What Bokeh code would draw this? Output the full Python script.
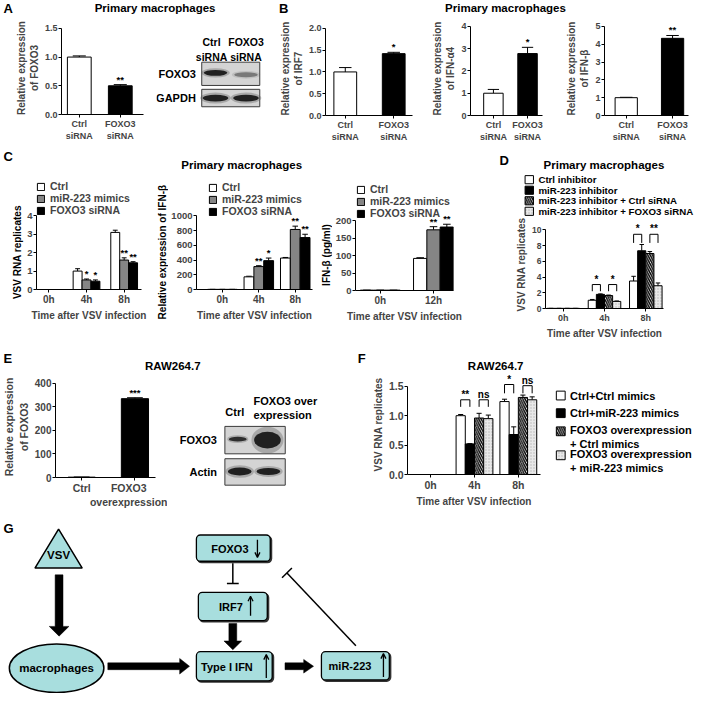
import math
from bokeh.plotting import figure
from bokeh.models import (Range1d, FixedTicker, ColumnDataSource, Whisker, TeeHead,
                          Legend, LegendItem, Arrow, OpenHead)
from bokeh.layouts import row, column
from bokeh.core.properties import value
from bokeh.embed import file_html
from bokeh.resources import INLINE

FONT = "Liberation Sans"
KX, KY = 0.985, 0.975


def PX(v):
    return int(round(v * KX))


def PY(v):
    return int(round(v * KY))


# ------------------------------------------------------------------ data
# Panel A
A_labels = ["Ctrl\nsiRNA", "FOXO3\nsiRNA"]
A_values = [1.00, 0.50]
A_errors = [0.02, 0.02]
A_sig = ["", "**"]
A_yticks = [0, 0.5, 1.0, 1.5]
A_yticklabels = ["0.0", "0.5", "1.0", "1.5"]

# Panel B
B_labels = ["Ctrl\nsiRNA", "FOXO3\nsiRNA"]
B_irf7 = [1.00, 1.42]
B_irf7_err = [0.10, 0.03]
B_irf7_sig = ["", "*"]
B_irf7_yticks = [0, 0.5, 1.0, 1.5, 2.0]
B_irf7_yticklabels = ["0.0", "0.5", "1.0", "1.5", "2.0"]
B_ifna4 = [1.00, 2.78]
B_ifna4_err = [0.17, 0.28]
B_ifna4_sig = ["", "*"]
B_ifna4_yticks = [0, 1, 2, 3, 4]
B_ifna4_yticklabels = ["0", "1", "2", "3", "4"]
B_ifnb = [1.00, 4.33]
B_ifnb_err = [0.02, 0.16]
B_ifnb_sig = ["", "**"]
B_ifnb_yticks = [0, 1, 2, 3, 4, 5]
B_ifnb_yticklabels = ["0", "1", "2", "3", "4", "5"]

# Panel C
C_times = ["0h", "4h", "8h"]
C_names = ["Ctrl", "miR-223 mimics", "FOXO3 siRNA"]
C1_ctrl = [0.0, 1.00, 3.10]
C1_ctrl_err = [0.0, 0.13, 0.12]
C1_mir = [0.0, 0.52, 1.60]
C1_mir_err = [0.0, 0.05, 0.12]
C1_mir_sig = ["", "*", "**"]
C1_foxo = [0.0, 0.45, 1.45]
C1_foxo_err = [0.0, 0.07, 0.06]
C1_foxo_sig = ["", "*", "**"]
C1_yticks = [0, 1, 2, 3, 4]
C1_yticklabels = ["0", "1", "2", "3", "4"]

C2_ctrl = [2, 172, 427]
C2_ctrl_err = [0, 8, 8]
C2_mir = [2, 311, 815]
C2_mir_err = [0, 12, 45]
C2_mir_sig = ["", "**", "**"]
C2_foxo = [2, 392, 705]
C2_foxo_err = [0, 35, 45]
C2_foxo_sig = ["", "*", "**"]
C2_yticks = [0, 200, 400, 600, 800, 1000]
C2_yticklabels = ["0", "200", "400", "600", "800", "1000"]

C3_times = ["0h", "12h"]
C3_ctrl = [1, 92]
C3_ctrl_err = [0, 2]
C3_mir = [1, 174]
C3_mir_err = [0, 9]
C3_mir_sig = ["", "**"]
C3_foxo = [1, 182]
C3_foxo_err = [0, 8]
C3_foxo_sig = ["", "**"]
C3_yticks = [0, 50, 100, 150, 200]
C3_yticklabels = ["0", "50", "100", "150", "200"]

# Panel D
D_times = ["0h", "4h", "8h"]
D_names = ["Ctrl inhibitor", "miR-223 inhibitor",
           "miR-223 inhibitor + Ctrl siRNA", "miR-223 inhibitor + FOXO3 siRNA"]
D_ctrl_inh = [0.02, 1.05, 3.50]
D_ctrl_inh_err = [0.0, 0.10, 0.60]
D_mir_inh = [0.02, 1.80, 7.35]
D_mir_inh_err = [0.0, 0.06, 0.80]
D_mir_ctrlsi = [0.02, 1.65, 7.00]
D_mir_ctrlsi_err = [0.0, 0.06, 0.25]
D_mir_foxosi = [0.02, 0.90, 2.90]
D_mir_foxosi_err = [0.0, 0.06, 0.35]
D_yticks = [0, 2, 4, 6, 8, 10]
D_yticklabels = ["0", "2", "4", "6", "8", "10"]
D_br_group = [1, 1, 2, 2]
D_br_left = [0, 2, 0, 2]
D_br_right = [1, 3, 1, 3]
D_br_level = [3.05, 3.05, 9.45, 9.45]
D_br_leg = [0.85, 0.85, 1.1, 1.1]
D_br_text = ["*", "*", "*", "**"]

# Panel E
E_labels = ["Ctrl", "FOXO3\noverexpression"]
E_values = [1.5, 335]
E_errors = [0.5, 4]
E_sig = ["", "***"]
E_yticks = [0, 100, 200, 300, 400]
E_yticklabels = ["0", "100", "200", "300", "400"]

# Panel F
F_times = ["0h", "4h", "8h"]
F_names = ["Ctrl+Ctrl mimics", "Ctrl+miR-223 mimics",
           "FOXO3 overexpression\n+ Ctrl mimics", "FOXO3 overexpression\n+ miR-223 mimics"]
F_ctrl_ctrl = [0.0, 1.00, 1.24]
F_ctrl_ctrl_err = [0.0, 0.02, 0.04]
F_ctrl_mir = [0.0, 0.52, 0.68]
F_ctrl_mir_err = [0.0, 0.005, 0.13]
F_foxo_ctrl = [0.0, 0.96, 1.31]
F_foxo_ctrl_err = [0.0, 0.08, 0.04]
F_foxo_mir = [0.0, 0.95, 1.27]
F_foxo_mir_err = [0.0, 0.06, 0.05]
F_yticks = [0, 0.5, 1.0, 1.5]
F_yticklabels = ["0.0", "0.5", "1.0", "1.5"]
F_br_group = [1, 1, 2, 2]
F_br_left = [0, 2, 0, 2]
F_br_right = [1, 3, 1, 3]
F_br_level = [1.27, 1.27, 1.53, 1.51]
F_br_leg = [0.12, 0.12, 0.15, 0.13]
F_br_text = ["**", "ns", "*", "ns"]

# ------------------------------------------------------------------ styles
WHITE, GRAY, BLACK = "white", "#858585", "black"
HATCH = dict(hatch_pattern="left_diagonal_line", hatch_color="black",
             hatch_scale=4.5, hatch_weight=1.4)
DOTS = dict(hatch_pattern="dot", hatch_color="#b5b5b5", hatch_scale=3, hatch_weight=0.6)
LIGHT = "#e8e8e8"
CY = "#a8dede"


def W(p):
    # wrap every plot on its own so that rows do not align their frames
    return column(p)


def canvas(x0, x1, y0, y1):
    p = figure(width=PX(x1) - PX(x0), height=PY(y1) - PY(y0),
               x_range=Range1d(x0, x1), y_range=Range1d(y1, y0),
               x_axis_type=None, y_axis_type=None, min_border=0,
               output_backend="svg", toolbar_location=None, tools="")
    p.outline_line_color = None
    return p


def txt(p, xs, ys, texts, size, align="center", baseline="middle", angle=0.0):
    p.text(x=xs, y=ys, text=texts, text_font=value(FONT), text_font_style="bold",
           text_font_size=size, text_align=align, text_baseline=baseline, text_color="black",
           angle=angle)


def bar_chart(box, frame, ta, amax, c0, sp, bw, xlabels, series, yticks, yticklabels,
              ylabel=None, xlabel=None, legend=None, brackets=None, tick_fs="9px",
              xtick_fs="9px", ylab_fs="10px", xlab_fs="10px"):
    x0, x1, y0, y1 = box
    L, R, Tf, B = frame
    y_end = amax * (B - Tf) / (B - ta)
    xs = (L - c0) / sp
    xe = (R - c0) / sp
    p = figure(width=PX(x1) - PX(x0), height=PY(y1) - PY(y0),
               x_range=Range1d(xs, xe), y_range=Range1d(0, y_end),
               min_border_left=PX(L) - PX(x0), min_border_right=PX(x1) - PX(R),
               min_border_top=PY(Tf) - PY(y0), min_border_bottom=PY(y1) - PY(B),
               output_backend="svg", toolbar_location=None, tools="")
    p.grid.visible = False
    p.outline_line_color = None
    n = len(series)
    ng = len(xlabels)
    bar_px = bw * sp * KX
    rends = []
    for k, s in enumerate(series):
        off = (k - (n - 1) / 2) * bw
        vals, errs = s["vals"], s["errs"]
        src = ColumnDataSource(dict(x=[i + off for i in range(ng)], top=vals,
                                    up=[v + e for v, e in zip(vals, errs)],
                                    sig=s.get("sig", [""] * ng)))
        fill = s["fill"]
        if isinstance(fill, list):
            src.data["fill"] = fill
            fill = "fill"
        r = p.vbar(x="x", top="top", width=bw, source=src, fill_color=fill,
                   line_color="black", line_width=1, **s.get("hatch", {}))
        rends.append(r)
        p.add_layout(Whisker(source=src, base="x", lower="top", upper="up",
                             line_color="black", line_width=1, lower_head=None,
                             upper_head=TeeHead(size=max(4, bar_px * 0.55),
                                                line_color="black", line_width=1)))
        p.text(x="x", y="up", text="sig", source=src, text_align="center",
               text_baseline="bottom", text_font=value(FONT), text_font_style="bold",
               text_font_size="9.5px", text_color="black")
    if brackets:
        bxs, bys, tx, ty, tt = [], [], [], [], []
        for g, i, j, lev, leg, t in zip(*brackets):
            xi = g + (i - (n - 1) / 2) * bw
            xj = g + (j - (n - 1) / 2) * bw
            bxs.append([xi, xi, xj, xj])
            bys.append([lev - leg, lev, lev, lev - leg])
            tx.append((xi + xj) / 2)
            ty.append(lev)
            tt.append(t)
        p.multi_line(bxs, bys, line_color="black", line_width=1)
        p.text(x=tx, y=ty, text=tt, text_align="center", text_baseline="bottom",
               text_font=value(FONT), text_font_style="bold", text_font_size="10px",
               text_color="black")
    xa, ya = p.xaxis[0], p.yaxis[0]
    xa.ticker = FixedTicker(ticks=list(range(ng)))
    xa.major_label_overrides = {i: lab for i, lab in enumerate(xlabels)}
    ya.ticker = FixedTicker(ticks=yticks)
    ya.major_label_overrides = {t: l for t, l in zip(yticks, yticklabels)}
    ya.bounds = (0, amax)
    for ax in (xa, ya):
        ax.axis_line_color = "black"
        ax.axis_line_width = 1
        ax.major_tick_line_color = "black"
        ax.major_tick_in = 0
        ax.major_tick_out = 3
        ax.minor_tick_line_color = None
        ax.major_label_text_font = FONT
        ax.major_label_text_font_style = "bold"
        ax.axis_label_text_font = FONT
        ax.axis_label_text_font_style = "bold"
        ax.major_label_standoff = 1
        ax.axis_label_standoff = 2
    ya.axis_label_text_font_size = ylab_fs
    xa.axis_label_text_font_size = xlab_fs
    ya.major_label_text_font_size = tick_fs
    xa.major_label_text_font_size = xtick_fs
    if ylabel:
        ya.axis_label = ylabel
    if xlabel:
        xa.axis_label = xlabel
    if legend:
        names, loc, fs, glyph, spacing = legend
        items = [LegendItem(label=nm, renderers=[r]) for nm, r in zip(names, rends)]
        lg = Legend(items=items, location=loc, orientation="vertical", padding=0, margin=0,
                    spacing=spacing, glyph_width=glyph, glyph_height=glyph, label_standoff=5,
                    label_text_font=FONT, label_text_font_style="bold",
                    label_text_font_size=fs, label_height=glyph, border_line_color=None,
                    background_fill_alpha=0)
        p.add_layout(lg)
    return p


def blot_box(p, x0, x1, y0, y1):
    p.quad(left=x0, right=x1, top=y0, bottom=y1, fill_color="#d4d4d4",
           line_color="#3a3a3a", line_width=1)


def band(p, x, y, w, h, dark=1.0):
    p.ellipse(x=x, y=y, width=w * 1.2, height=h * 1.6, fill_color="#555555",
              fill_alpha=0.35 * dark, line_color=None)
    p.ellipse(x=x, y=y, width=w, height=h, fill_color="#111111",
              fill_alpha=0.9 * dark, line_color=None)


def swatch_legend(p, x, ys, names, fills, hatches, size, fs, text_ys=None):
    for fc, hk, yc in zip(fills, hatches, ys):
        p.quad(left=x, right=x + size, top=yc - size / 2, bottom=yc + size / 2, fill_color=fc,
               line_color="black", line_width=1, **hk)
    txt(p, [x + size + 5] * len(names), text_ys or ys, names, fs, align="left")


# ------------------------------------------------------------------ row 1
strip1 = canvas(0, 706, 0, 20)
txt(strip1, [3, 283], [8, 8], ["A", "B"], "13px", align="left")
txt(strip1, [157, 513], [7, 7], ["Primary macrophages", "Primary macrophages"], "11.5px")

fA = bar_chart((0, 158, 20, 150), (62, 145, 22, 117), 29, 1.5, 80, 41.5, 0.58,
               A_labels, [dict(vals=A_values, errs=A_errors, fill=[WHITE, BLACK], sig=A_sig)],
               A_yticks, A_yticklabels, "Relative expression\nof FOXO3")

fAb = canvas(158, 280, 20, 150)
txt(fAb, [214, 249], [50, 50], ["Ctrl\nsiRNA", "FOXO3\nsiRNA"], "10.5px")
txt(fAb, [198, 198], [75, 100], ["FOXO3", "GAPDH"], "11px", align="right")
blot_box(fAb, 204, 263, 63, 87)
blot_box(fAb, 204, 263, 91, 109)
band(fAb, 218, 74, 24, 6, 1.0)
band(fAb, 249, 76, 24, 5, 0.45)
band(fAb, 218, 100, 26, 7, 1.0)
band(fAb, 249, 100, 26, 7, 1.0)

fB1 = bar_chart((280, 436, 20, 150), (330, 418, 22, 118), 29, 2.0, 350, 49, 0.47,
                B_labels, [dict(vals=B_irf7, errs=B_irf7_err, fill=[WHITE, BLACK], sig=B_irf7_sig)],
                B_irf7_yticks, B_irf7_yticklabels, "Relative expression\nof IRF7")
fB2 = bar_chart((436, 572, 20, 150), (473, 550, 22, 118), 27, 4, 497.5, 36.5, 0.57,
                B_labels, [dict(vals=B_ifna4, errs=B_ifna4_err, fill=[WHITE, BLACK], sig=B_ifna4_sig)],
                B_ifna4_yticks, B_ifna4_yticklabels, "Relative expression\nof IFN-α4")
fB3 = bar_chart((572, 706, 20, 150), (611, 698, 22, 118), 27, 5, 633.5, 48, 0.48,
                B_labels, [dict(vals=B_ifnb, errs=B_ifnb_err, fill=[WHITE, BLACK], sig=B_ifnb_sig)],
                B_ifnb_yticks, B_ifnb_yticklabels, "Relative expression\nof IFN-β")

# ------------------------------------------------------------------ row 2
strip2 = canvas(0, 706, 150, 176)
txt(strip2, [3, 507], [160, 164], ["C", "D"], "13px", align="left")
txt(strip2, [245, 613], [168, 168], ["Primary macrophages", "Primary macrophages"], "11.5px")

yl1 = canvas(0, 24, 176, 350)
txt(yl1, [17], [258], ["VSV RNA replicates"], "10px", angle=math.pi / 2)
C1_series = [dict(vals=C1_ctrl, errs=C1_ctrl_err, fill=WHITE),
             dict(vals=C1_mir, errs=C1_mir_err, fill=GRAY, sig=C1_mir_sig),
             dict(vals=C1_foxo, errs=C1_foxo_err, fill=BLACK, sig=C1_foxo_sig)]
fC1 = bar_chart((24, 155, 176, 350), (37, 143, 184, 296), 221, 4, 49.5, 38, 0.237,
                C_times, C1_series, C1_yticks, C1_yticklabels,
                xlabel="Time after VSV infection", tick_fs="9.5px", xtick_fs="10px",
                legend=(C_names, (0, PY(296) - PY(222)), "10.5px", 9, 0))

yl2 = canvas(155, 171, 176, 350)
txt(yl2, [165], [258], ["Relative expression of IFN-β"], "10px", angle=math.pi / 2)
C2_series = [dict(vals=C2_ctrl, errs=C2_ctrl_err, fill=WHITE),
             dict(vals=C2_mir, errs=C2_mir_err, fill=GRAY, sig=C2_mir_sig),
             dict(vals=C2_foxo, errs=C2_foxo_err, fill=BLACK, sig=C2_foxo_sig)]
fC2 = bar_chart((171, 323, 176, 350), (196, 317, 184, 296), 221, 1000, 223, 38, 0.27,
                C_times, C2_series, C2_yticks, C2_yticklabels,
                xlabel="Time after VSV infection", tick_fs="9.5px", xtick_fs="10px",
                legend=(C_names, (PX(208) - PX(196), PY(296) - PY(223)), "10.5px", 9, 0))

yl3 = canvas(323, 337, 176, 350)
txt(yl3, [330.5], [261], ["IFN-β (pg/ml)"], "10px", angle=math.pi / 2)
C3_series = [dict(vals=C3_ctrl, errs=C3_ctrl_err, fill=WHITE),
             dict(vals=C3_mir, errs=C3_mir_err, fill=GRAY, sig=C3_mir_sig),
             dict(vals=C3_foxo, errs=C3_foxo_err, fill=BLACK, sig=C3_foxo_sig)]
fC3 = bar_chart((337, 505, 176, 350), (357, 460, 184, 297), 226, 200, 383, 56, 0.25,
                C3_times, C3_series, C3_yticks, C3_yticklabels,
                xlabel="Time after VSV infection", tick_fs="9.5px", xtick_fs="10px",
                legend=(C_names, (PX(358) - PX(357), PY(297) - PY(225)), "10.5px", 9, 0))

# D: legend strip above, plot below
fDleg = canvas(505, 706, 176, 224)
D_fills = [WHITE, BLACK, WHITE, LIGHT]
D_hatch = [{}, {}, HATCH, DOTS]
swatch_legend(fDleg, 533, [183.5, 194.5, 205.5, 216.5], D_names, D_fills, D_hatch, 8.5, "9.7px")
D_series = [dict(vals=D_ctrl_inh, errs=D_ctrl_inh_err, fill=WHITE),
            dict(vals=D_mir_inh, errs=D_mir_inh_err, fill=BLACK),
            dict(vals=D_mir_ctrlsi, errs=D_mir_ctrlsi_err, fill=WHITE, hatch=HATCH),
            dict(vals=D_mir_foxosi, errs=D_mir_foxosi_err, fill=LIGHT, hatch=DOTS)]
fD = bar_chart((505, 706, 224, 350), (553, 673, 226, 319), 236, 10, 571, 42, 0.197,
               D_times, D_series, D_yticks, D_yticklabels, "VSV RNA replicates",
               xlabel="Time after VSV infection", tick_fs="8.5px", xtick_fs="9px",
               brackets=(D_br_group, D_br_left, D_br_right, D_br_level, D_br_leg, D_br_text))
colD = column(W(fDleg), W(fD))

# ------------------------------------------------------------------ row 3
strip3 = canvas(0, 706, 350, 383)
txt(strip3, [3, 363], [368, 368], ["E", "F"], "13px", align="left")
txt(strip3, [175, 503], [375, 375], ["RAW264.7", "RAW264.7"], "11.5px")

fE = bar_chart((0, 170, 383, 530), (50, 157, 386, 489), 393, 400, 78, 57, 0.51,
               E_labels, [dict(vals=E_values, errs=E_errors, fill=[WHITE, BLACK], sig=E_sig)],
               E_yticks, E_yticklabels, "Relative expression\nof FOXO3",
               tick_fs="10px", xtick_fs="10.5px", ylab_fs="10.5px")

fEb = canvas(170, 360, 383, 530)
txt(fEb, [238], [422], ["Ctrl"], "11px")
txt(fEb, [257], [418], ["FOXO3 over\nexpression"], "11px", align="left")
txt(fEb, [220, 220], [451, 484], ["FOXO3", "Actin"], "11px", align="right")
blot_box(fEb, 228, 289, 437, 465)
blot_box(fEb, 228, 289, 470, 497)
band(fEb, 241, 450, 18, 5, 0.9)
band(fEb, 271, 451, 27, 17, 1.0)
band(fEb, 243, 483, 24, 8, 1.0)
band(fEb, 272, 483, 24, 7, 1.0)

F_series = [dict(vals=F_ctrl_ctrl, errs=F_ctrl_ctrl_err, fill=WHITE),
            dict(vals=F_ctrl_mir, errs=F_ctrl_mir_err, fill=BLACK),
            dict(vals=F_foxo_ctrl, errs=F_foxo_ctrl_err, fill=WHITE, hatch=HATCH),
            dict(vals=F_foxo_mir, errs=F_foxo_mir_err, fill=LIGHT, hatch=DOTS)]
fF = bar_chart((360, 556, 383, 530), (413, 548, 384, 486), 396, 1.5, 436.5, 44.5, 0.21,
               F_times, F_series, F_yticks, F_yticklabels, "VSV RNA replicates",
               xlabel="Time after VSV infection", tick_fs="10.5px", xtick_fs="10.5px",
               brackets=(F_br_group, F_br_left, F_br_right, F_br_level, F_br_leg, F_br_text))

fFleg = canvas(556, 706, 383, 530)
F_fills = [WHITE, BLACK, WHITE, LIGHT]
F_hatch = [{}, {}, HATCH, DOTS]
swatch_legend(fFleg, 564, [405.5, 423.5, 442, 466.5], F_names, F_fills, F_hatch, 9, "11px",
              text_ys=[405.5, 423.5, 448, 472.5])

# ------------------------------------------------------------------ G diagram
g = canvas(0, 706, 530, 711)
txt(g, [3], [541], ["G"], "13px", align="left")


def thick_arrow(p, x0, y0, x1, y1, shaft, head_w, head_len):
    dx, dy = x1 - x0, y1 - y0
    ln = math.hypot(dx, dy)
    ux, uy = dx / ln, dy / ln
    nx, ny = -uy, ux
    bx, by = x1 - ux * head_len, y1 - uy * head_len
    pts = [(x0 + nx * shaft / 2, y0 + ny * shaft / 2), (bx + nx * shaft / 2, by + ny * shaft / 2),
           (bx + nx * head_w / 2, by + ny * head_w / 2), (x1, y1),
           (bx - nx * head_w / 2, by - ny * head_w / 2), (bx - nx * shaft / 2, by - ny * shaft / 2),
           (x0 - nx * shaft / 2, y0 - ny * shaft / 2)]
    p.patch([q[0] for q in pts], [q[1] for q in pts], fill_color="black", line_color="black",
            line_width=0.5)


g.patch([35, 59, 83], [582, 542, 582], fill_color=CY, line_color="black", line_width=1.5)
txt(g, [59], [569], ["VSV"], "11.5px")
g.ellipse(x=[57], y=[685], width=[96], height=[50], fill_color=CY, line_color="black",
          line_width=1.5)
txt(g, [57], [685], ["macrophages"], "11.5px")
bx_c = [236.5, 236, 237.5, 360.5]
by_c = [561.5, 621.5, 683, 682.5]
bw_ = [75, 70, 77, 69]
bh_ = [27, 29, 30, 29]
g.rect(x=[v + 1.3 for v in bx_c], y=[v + 1.3 for v in by_c], width=bw_, height=bh_,
       fill_color="#333333", line_color="#333333", line_width=1.5, border_radius=4)
g.rect(x=bx_c, y=by_c, width=bw_, height=bh_, fill_color=CY, line_color="black",
       line_width=1.3, border_radius=4)
txt(g, [233, 234, 230, 355], [562, 622, 684, 683], ["FOXO3", "IRF7", "Type I IFN", "miR-223"],
    "11px")
for (xa0, ya0, xa1, ya1) in [(261, 553, 261, 571), (254, 631, 254, 611),
                             (270, 695, 270, 671), (389, 694, 389, 670)]:
    g.add_layout(Arrow(x_start=xa0, y_start=ya0, x_end=xa1, y_end=ya1, line_width=1.3,
                       line_color="black",
                       end=OpenHead(size=5, line_width=1.3, line_color="black")))
thick_arrow(g, 59.5, 589, 59.5, 652, 8, 20, 10)
thick_arrow(g, 109, 683, 192, 683, 7, 16, 10)
thick_arrow(g, 236, 639, 236, 666, 8, 18, 9)
thick_arrow(g, 289, 683, 318, 683, 7, 14, 10)
g.segment(x0=[236, 230, 361, 286], y0=[577, 598, 662, 592], x1=[236, 242, 291, 296],
          y1=[598, 598, 587, 582], line_color="black", line_width=1.5)

layout = column(
    strip1,
    row(W(fA), W(fAb), W(fB1), W(fB2), W(fB3)),
    strip2,
    row(W(yl1), W(fC1), W(yl2), W(fC2), W(yl3), W(fC3), colD),
    strip3,
    row(W(fE), W(fEb), W(fF), W(fFleg)),
    g,
)

open("out.html", "w").write(file_html(layout, INLINE))
